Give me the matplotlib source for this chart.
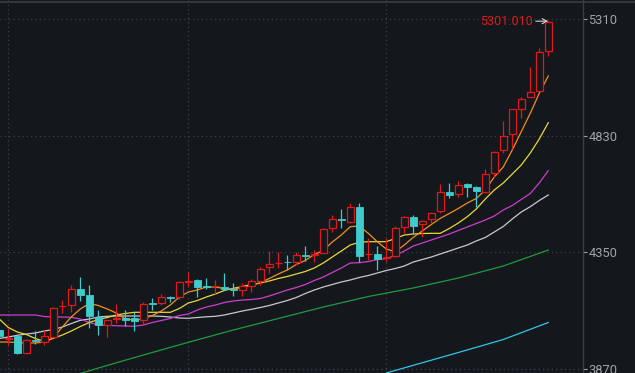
import numpy as np
import matplotlib
matplotlib.use("Agg")
import matplotlib.pyplot as plt
from matplotlib.patches import Rectangle
from matplotlib.lines import Line2D

plt.rcParams['font.family'] = ['Roboto', 'DejaVu Sans']

# ---------------- data ----------------
idx = list(range(-1, 61))
opens = [4030.5, 3993.5, 4007.1, 3937.2, 3988.1, 3982.3, 4002.9, 4127.2, 4133.4, 4199.2,
         4174.5, 4085.2, 4051.1, 4077.0, 4078.6, 4078.6, 4071.6, 4141.6, 4140.3, 4165.0,
         4167.5, 4226.7, 4236.2, 4211.5, 4210.3, 4208.6, 4199.2, 4195.1, 4212.7, 4233.3,
         4288.4, 4306.1, 4312.3, 4309.0, 4337.8, 4340.3, 4346.1, 4448.9, 4487.2, 4476.1,
         4535.3, 4341.9, 4341.9, 4326.7, 4336.2, 4453.0, 4494.2, 4465.4, 4485.9, 4521.3,
         4598.3, 4588.8, 4630.0, 4617.6, 4599.5, 4675.2, 4771.1, 4835.6, 4938.5, 4990.3,
         5013.8, 5179.6]
highs = [4038.7, 4038.7, 4014.2, 3993.5, 4026.4, 4030.5, 4125.1, 4153.9, 4215.6, 4249.8,
         4215.6, 4112.8, 4073.7, 4137.5, 4112.8, 4103.3, 4146.9, 4163.4, 4178.6, 4170.3,
         4232.1, 4270.4, 4239.1, 4243.2, 4236.2, 4266.2, 4222.6, 4222.6, 4240.3, 4290.9,
         4355.5, 4352.6, 4339.0, 4352.6, 4376.1, 4359.6, 4448.9, 4503.6, 4528.3, 4554.2,
         4551.8, 4407.8, 4376.1, 4407.8, 4458.4, 4499.5, 4503.6, 4483.1, 4517.2, 4631.2,
         4636.5, 4643.5, 4636.5, 4622.9, 4691.6, 4766.9, 4890.4, 4939.7, 4987.9, 5113.8,
         5189.5, 5301.01]
lows = [4001.7, 3968.8, 3931.8, 3935.0, 3972.9, 3968.8, 4001.7, 4101.7, 4105.8, 4151.0,
        4037.5, 4010.0, 4002.9, 4060.5, 4047.0, 4027.6, 4051.1, 4112.8, 4133.4, 4146.9,
        4156.8, 4208.6, 4167.5, 4198.1, 4178.6, 4195.1, 4170.3, 4170.3, 4188.1, 4215.6,
        4263.8, 4286.8, 4277.3, 4297.9, 4314.4, 4311.5, 4346.1, 4434.9, 4448.9, 4469.5,
        4311.5, 4318.5, 4277.3, 4311.5, 4332.1, 4430.8, 4425.5, 4411.9, 4469.5, 4510.6,
        4572.3, 4578.9, 4578.9, 4537.8, 4593.0, 4661.2, 4757.5, 4773.9, 4901.5, 4988.0,
        5012.0, 5159.0]
closes = [4005.8, 3997.6, 3937.2, 3989.3, 3985.2, 4005.8, 4119.8, 4131.3, 4198.1, 4174.5,
          4089.3, 4051.1, 4071.6, 4079.9, 4072.9, 4068.8, 4136.2, 4138.7, 4165.0, 4160.9,
          4226.7, 4233.3, 4208.6, 4207.4, 4212.7, 4199.2, 4196.3, 4211.5, 4232.1, 4280.2,
          4300.8, 4308.2, 4310.3, 4339.0, 4334.9, 4343.2, 4444.8, 4485.9, 4484.3, 4535.3,
          4336.2, 4344.4, 4322.6, 4332.1, 4448.9, 4494.2, 4459.6, 4479.0, 4510.6, 4599.5,
          4587.2, 4627.1, 4620.1, 4602.4, 4672.3, 4761.6, 4830.0, 4938.5, 4979.6, 5008.5,
          5175.5, 5296.4]

ma5 = [3981.1, 3981.1, 3979.0, 3977.0, 3977.0, 3981.1, 3997.6, 4042.8, 4084.0, 4116.9,
       4139.5, 4131.3, 4116.9, 4100.4, 4075.7, 4071.6, 4075.7, 4090.1, 4108.6, 4133.3,
       4166.2, 4186.8, 4195.0, 4207.4, 4207.4, 4201.2, 4197.9, 4205.3, 4213.6, 4225.1,
       4242.4, 4260.9, 4277.3, 4300.0, 4316.4, 4341.1, 4357.6, 4392.5, 4421.3, 4455.5,
       4458.4, 4428.3, 4393.8, 4363.7, 4352.6, 4380.2, 4411.9, 4437.8, 4464.5, 4490.0,
       4509.8, 4530.4, 4553.0, 4571.5, 4606.5, 4660.0, 4701.1, 4771.1, 4846.4, 4922.2,
       5004.3, 5075.5]
ma10 = [4075.7, 4040.8, 4022.2, 4012.0, 3995.5, 3983.2, 3996.3, 4009.9, 4026.4, 4044.9,
        4061.3, 4073.7, 4081.9, 4092.2, 4098.4, 4103.3, 4103.3, 4103.3, 4103.3, 4103.3,
        4118.9, 4141.6, 4151.8, 4166.2, 4178.6, 4193.0, 4202.0, 4209.4, 4217.7, 4223.8,
        4232.1, 4242.4, 4250.6, 4260.9, 4271.2, 4285.6, 4306.1, 4330.8, 4355.5, 4380.2,
        4391.3, 4393.8, 4393.8, 4393.8, 4406.9, 4421.3, 4425.5, 4427.5, 4428.3, 4428.3,
        4448.1, 4470.7, 4496.6, 4528.3, 4569.4, 4606.5, 4635.3, 4672.3, 4709.3, 4758.7,
        4816.3, 4883.4]
ma20 = [4092.2, 4092.2, 4092.2, 4092.2, 4092.2, 4086.0, 4084.0, 4084.0, 4082.7, 4075.7,
        4061.3, 4051.0, 4049.8, 4048.1, 4046.9, 4045.7, 4051.0, 4061.3, 4069.6, 4077.8,
        4090.1, 4096.3, 4112.8, 4125.1, 4133.3, 4143.6, 4149.8, 4153.9, 4156.0, 4160.1,
        4170.4, 4182.7, 4195.0, 4205.3, 4217.7, 4234.1, 4248.5, 4267.0, 4285.6, 4306.1,
        4307.4, 4312.3, 4320.5, 4324.6, 4337.0, 4355.5, 4376.1, 4388.4, 4400.8, 4413.1,
        4425.5, 4439.9, 4454.3, 4468.7, 4483.1, 4499.5, 4524.2, 4542.7, 4567.4, 4592.1,
        4635.3, 4685.9]
ma30 = [3995.5, 4001.7, 4008.6, 4014.0, 4018.1, 4026.4, 4032.5, 4042.8, 4057.2, 4070.4,
        4075.7, 4084.0, 4086.8, 4088.1, 4088.1, 4088.1, 4088.1, 4088.1, 4086.8, 4084.0,
        4079.8, 4078.6, 4081.9, 4084.8, 4086.8, 4092.2, 4100.4, 4108.6, 4115.6, 4123.0,
        4131.3, 4141.6, 4151.8, 4164.2, 4180.6, 4195.0, 4207.4, 4217.7, 4228.0, 4236.2,
        4246.5, 4254.7, 4265.0, 4275.3, 4283.5, 4293.8, 4310.2, 4320.5, 4330.8, 4343.2,
        4355.5, 4367.9, 4380.2, 4396.7, 4411.1, 4433.7, 4456.3, 4487.2, 4516.0, 4537.8,
        4563.3, 4585.9]
ma60_idx = [8, 10, 15, 20, 25, 30, 35, 40, 45, 50, 55, 60]
ma60 = [3851.5, 3874.1, 3927.6, 3979.9, 4030.5, 4077.8, 4125.1, 4168.3, 4203.3, 4244.4,
        4293.8, 4359.6]
ma120_idx = [42, 50, 55, 60]
ma120 = [3853.6, 3937.9, 3991.4, 4061.3]

y_ticks = [3870, 4350, 4830, 5310]
month_lines = [0, 20, 42]
last_high = 5301.01
label_high = "5301.010"

# ---------------- style ----------------
BG = '#14171c'
RED = '#e01818'
CYAN = '#40cccc'
GRID = '#3c4048'

W, H = 635, 373
fig = plt.figure(figsize=(W / 100, H / 100), dpi=100, facecolor=BG)
ax = fig.add_axes([0, 0, 583 / W, 1])
ax.set_facecolor(BG)

for x in month_lines:
    ax.axvline(x, color=GRID, lw=0.9, ls=(0, (1, 2.5)), zorder=0)
for y in y_ticks:
    ax.axhline(y, color=GRID, lw=0.9, ls=(0, (1, 2.5)), zorder=0)

ax.plot(ma120_idx, ma120, color='#2ec8e6', lw=0.9, zorder=2)
ax.plot(ma60_idx, ma60, color='#1e9c3c', lw=0.9, zorder=2)
ax.plot(idx, ma30, color='#c8c8cc', lw=0.9, zorder=2)
ax.plot(idx, ma20, color='#cc40cc', lw=0.9, zorder=2)
ax.plot(idx, ma10, color='#e8d838', lw=0.9, zorder=2)
ax.plot(idx, ma5, color='#f0901c', lw=0.9, zorder=2)

bw = 0.72
for i, o, h, l, c in zip(idx, opens, highs, lows, closes):
    up = c >= o
    col = RED if up else CYAN
    lo_b, hi_b = min(o, c), max(o, c)
    ax.plot([i, i], [hi_b, h], color=col, lw=0.9, zorder=3, solid_capstyle='butt')
    ax.plot([i, i], [l, lo_b], color=col, lw=0.9, zorder=3, solid_capstyle='butt')
    if up:
        ax.add_patch(Rectangle((i - bw / 2, lo_b), bw, hi_b - lo_b, facecolor=BG,
                               edgecolor=col, lw=0.9, zorder=4))
    else:
        ax.add_patch(Rectangle((i - bw / 2, lo_b), bw, max(hi_b - lo_b, 1.0), facecolor=col,
                               edgecolor=col, lw=0.6, zorder=4))

ax.annotate(label_high, xy=(idx[-1], last_high), xytext=(idx[-1] - 1.7, last_high),
            color=RED, fontsize=9, ha='right', va='center',
            arrowprops=dict(arrowstyle='->', color='#d8d8d8', lw=0.8,
                            shrinkA=0, shrinkB=0))

ax.set_xlim(-0.922, 63.86)
ax.set_ylim(3853.6, 5388.2)
ax.set_xticks([])
ax.yaxis.tick_right()
ax.set_yticks(y_ticks)
ax.set_yticklabels([str(v) for v in y_ticks])
ax.tick_params(axis='y', colors='#a0a4a8', labelsize=9.3, length=3, width=0.8, pad=1)
for s in ['left', 'top', 'bottom']:
    ax.spines[s].set_visible(False)
ax.spines['right'].set_color('#3a3d44')
ax.spines['right'].set_linewidth(1.0)

fig.add_artist(Line2D([0, 1], [1 - 1.5 / H, 1 - 1.5 / H], color='#3a3d44', lw=1.2,
                      transform=fig.transFigure))

fig.savefig('out.png', dpi=100, facecolor=BG)
